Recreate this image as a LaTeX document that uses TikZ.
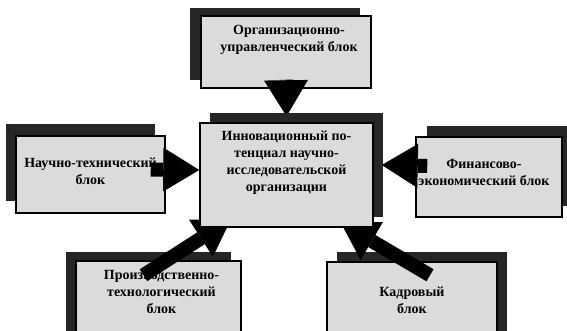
\documentclass[tikz,border=0pt]{standalone}
\usepackage{fontspec}
\setmainfont{Liberation Serif}
\usetikzlibrary{arrows.meta,shadows}

\pgfdeclarelayer{blocks}
\pgfdeclarelayer{front}
\pgfsetlayers{blocks,main,front}

\begin{document}
\begin{tikzpicture}[x=1pt, y=-1pt,
    block/.style={rectangle, draw, line width=1.5pt, fill=black!14, inner sep=0pt},
    slab/.style 2 args={general shadow={shadow xshift=#1, shadow yshift=#2, fill=black!85}},
    words/.style={align=center, inner sep=0pt, font=\fontsize{14}{17}\selectfont\bfseries},
    feed/.style={line width=14pt, -{Triangle[length=36pt, width=44pt, line width=0pt]}}]

    \useasboundingbox (0,0) rectangle (567,331);

    \begin{pgfonlayer}{blocks}
      \node[block, slab={-11pt}{8pt}, minimum width=170pt, minimum height=72pt,
            label={[words, xshift=3pt, yshift=12pt]center:{Организационно-\\управленческий блок}}] (org) at (286,52) {};
      \node[block, slab={-10pt}{12pt}, minimum width=149pt, minimum height=77pt,
            label={[words, yshift=3pt]center:{Научно-технический\\блок}}] (sci) at (90.5,174.5) {};
      \node[block, slab={11pt}{11pt}, minimum width=146pt, minimum height=80pt,
            label={[words, xshift=-5pt, yshift=5pt]center:{Финансово-\\экономический блок}}] (fin) at (489,177) {};
      \node[block, slab={-10pt}{9pt}, minimum width=165pt, minimum height=80pt,
            label={[words, xshift=3pt, yshift=9pt]center:{Производственно-\\технологический\\блок}}] (prod) at (158.5,301) {};
      \node[block, slab={10pt}{10pt}, minimum width=170pt, minimum height=80pt,
            label={[words, yshift=2pt]center:{Кадровый\\блок}}] (staff) at (412,302) {};
    \end{pgfonlayer}

    \begin{pgfonlayer}{front}
      \node[block, slab={10pt}{10pt}, minimum width=173pt, minimum height=104pt,
            label={[words, yshift=12pt]center:{Инновационный по-\\тенциал научно-\\исследовательской\\организации}}] (core) at (286.5,175) {};
    \end{pgfonlayer}

    % blocks feed the core
    \draw[feed] ([yshift=9pt]org.south) -- ([yshift=6pt]core.north);
    \draw[feed] ([shift={(-15pt,5pt)}]sci.east) -- ([yshift=5pt]core.west);
    \draw[feed] ([shift={(12pt,11pt)}]fin.west) -- ([shift={(8pt,10pt)}]core.east);
    \draw[feed] ([shift={(-15pt,-15pt)}]prod.north) -- ([shift={(32pt,9pt)}]core.south west);
    \draw[feed] ([shift={(18pt,-14pt)}]staff.north) -- ([shift={(-33pt,5pt)}]core.south east);

  \end{tikzpicture}
\end{document}
